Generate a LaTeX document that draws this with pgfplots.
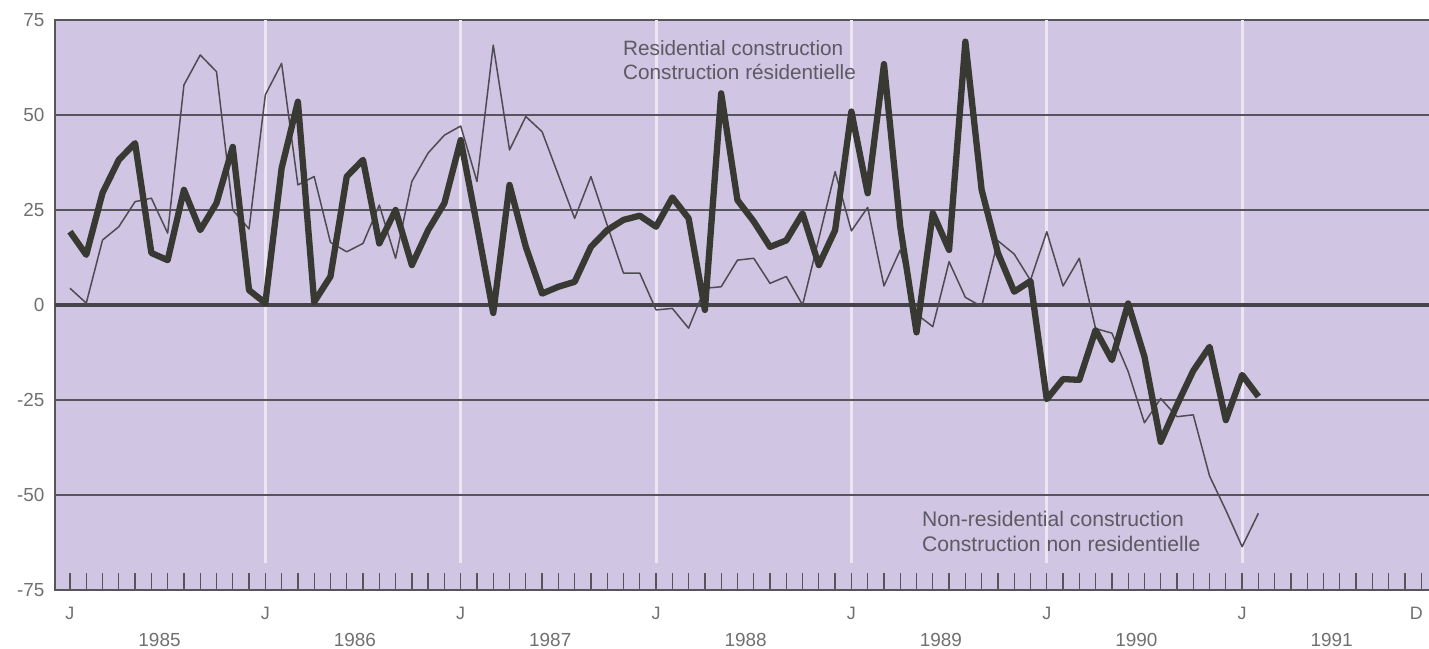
\documentclass[border=0pt]{standalone}
\usepackage{fontspec}
\setmainfont{Liberation Sans}
\usepackage{pgfplots}
\pgfplotsset{compat=1.18}
\definecolor{bg}{RGB}{208,197,226}
\definecolor{vline}{RGB}{236,230,243}
\definecolor{gridc}{RGB}{88,84,92}
\definecolor{thickc}{RGB}{55,57,50}
\definecolor{thinc}{RGB}{78,76,82}
\definecolor{labc}{RGB}{112,112,112}
\definecolor{annc}{RGB}{92,90,98}
\begin{document}
\begin{tikzpicture}
\useasboundingbox (0,0) rectangle (1429bp,649bp);
\begin{axis}[
  at={(55bp,59bp)}, anchor=south west,
  scale only axis, width=1376bp, height=570bp,
  xmin=-0.92, xmax=83.6, ymin=-75, ymax=75,
  axis background/.style={fill=bg},
  axis line style={draw=gridc, line width=1.6bp},
  xtick={0,...,83}, xticklabels={}, xtick pos=left,
  tick align=inside, major tick length=17bp,
  x tick style={draw=gridc, line width=1.3bp},
  ytick={-75,-50,-25,0,25,50,75},
  yticklabels={-75,-50,-25,0,25,50,75},
  ytick pos=left,
  y tick style={draw=none},
  yticklabel style={anchor=east, xshift=-7bp, font=\fontsize{19}{19}\selectfont, text=labc},
  clip=true,
]
% white vertical January lines
\draw[vline, line width=3bp] (axis cs:12,-68) -- (axis cs:12,75);
\draw[vline, line width=3bp] (axis cs:24,-68) -- (axis cs:24,75);
\draw[vline, line width=3bp] (axis cs:36,-68) -- (axis cs:36,75);
\draw[vline, line width=3bp] (axis cs:48,-68) -- (axis cs:48,75);
\draw[vline, line width=3bp] (axis cs:60,-68) -- (axis cs:60,75);
\draw[vline, line width=3bp] (axis cs:72,-68) -- (axis cs:72,75);
% horizontal grid lines
\draw[gridc, line width=1.4bp] (axis cs:-0.92,50) -- (axis cs:83.6,50);
\draw[gridc, line width=1.4bp] (axis cs:-0.92,25) -- (axis cs:83.6,25);
\draw[gridc, line width=1.4bp] (axis cs:-0.92,-25) -- (axis cs:83.6,-25);
\draw[gridc, line width=1.4bp] (axis cs:-0.92,-50) -- (axis cs:83.6,-50);
\draw[gridc!80!black, line width=3.5bp] (axis cs:-0.92,0) -- (axis cs:83.6,0);
% Non-residential construction (thin)
\addplot[thinc, line width=1.5bp, line join=round] coordinates {
(0,4.4) (1,0.5) (2,17.1) (3,20.6) (4,27.2) (5,28.1) (6,18.9) (7,57.9) (8,65.8) (9,61.4)
(10,25) (11,20) (12,55.3) (13,63.6) (14,31.6) (15,33.8) (16,16.5) (17,14) (18,16.2) (19,26.3)
(20,12.3) (21,32.5) (22,40) (23,44.7) (24,47.1) (25,32.5) (26,68.4) (27,40.8) (28,49.6) (29,45.6)
(30,34.2) (31,22.8) (32,33.8) (33,21) (34,8.4) (35,8.4) (36,-1.3) (37,-0.9) (38,-6.1) (39,4.4)
(40,4.8) (41,11.8) (42,12.3) (43,5.7) (44,7.5) (45,0) (46,17.5) (47,35.1) (48,19.5) (49,25.7)
(50,5) (51,14.5) (52,-2.4) (53,-5.7) (54,11.4) (55,2) (56,-0.4) (57,16.9) (58,13.4) (59,6.5)
(60,19.3) (61,5) (62,12.3) (63,-6.2) (64,-7.4) (65,-17.5) (66,-31) (67,-24.6) (68,-29.4) (69,-28.9)
(70,-45) (71,-54) (72,-63.6) (73,-54.8)
};
% Residential construction (thick)
\addplot[thickc, line width=6.3bp, line join=round] coordinates {
(0,19.3) (1,13.2) (2,29.5) (3,38.2) (4,42.6) (5,13.7) (6,11.8) (7,30.3) (8,19.7) (9,26.8)
(10,41.6) (11,3.9) (12,0.5) (13,36) (14,53.5) (15,0.8) (16,7.5) (17,33.8) (18,38.2) (19,16.2)
(20,25) (21,10.5) (22,19.7) (23,26.8) (24,43.4) (25,21) (26,-2.1) (27,31.6) (28,15.3) (29,3)
(30,4.8) (31,6.1) (32,15.3) (33,19.7) (34,22.4) (35,23.5) (36,20.6) (37,28.3) (38,22.8) (39,-1.3)
(40,55.7) (41,27.6) (42,22) (43,15.3) (44,17) (45,24.1) (46,10.5) (47,19.7) (48,50.9) (49,29.4)
(50,63.4) (51,20.6) (52,-7.2) (53,24.2) (54,14.5) (55,69.3) (56,30.3) (57,13.7) (58,3.5) (59,6.3)
(60,-24.8) (61,-19.5) (62,-19.7) (63,-6.6) (64,-14.5) (65,0.4) (66,-13.6) (67,-36) (68,-26.3) (69,-17.3)
(70,-11) (71,-30.3) (72,-18.4) (73,-24.1)
};
% annotations
\node[anchor=west, align=left, inner sep=0pt, text=annc, font=\fontsize{20.8}{24}\selectfont]
  at (axis cs:33.97,64.5) {Residential construction\\Construction résidentielle};
\node[anchor=west, align=left, inner sep=0pt, text=annc, font=\fontsize{21.2}{25}\selectfont]
  at (axis cs:52.33,-59.6) {Non-residential construction\\Construction non residentielle};
\end{axis}
% x labels (outside the clipped axis area)
\begin{axis}[
  at={(55bp,59bp)}, anchor=south west,
  scale only axis, width=1376bp, height=570bp,
  xmin=-0.92, xmax=83.6, ymin=-75, ymax=75,
  hide axis, clip=false,
]
\pgfplotsinvokeforeach{0,12,24,36,48,60,72}{
  \node[text=labc, font=\fontsize{18}{18}\selectfont, inner sep=0pt] at (axis cs:#1,-75) [yshift=-23bp] {J};
}
\node[text=labc, font=\fontsize{18}{18}\selectfont, inner sep=0pt] at (axis cs:82.7,-75) [yshift=-23bp] {D};
\node[text=labc, font=\fontsize{19}{19}\selectfont, inner sep=0pt] at (axis cs:5.5,-75) [yshift=-50bp] {1985};
\node[text=labc, font=\fontsize{19}{19}\selectfont, inner sep=0pt] at (axis cs:17.5,-75) [yshift=-50bp] {1986};
\node[text=labc, font=\fontsize{19}{19}\selectfont, inner sep=0pt] at (axis cs:29.5,-75) [yshift=-50bp] {1987};
\node[text=labc, font=\fontsize{19}{19}\selectfont, inner sep=0pt] at (axis cs:41.5,-75) [yshift=-50bp] {1988};
\node[text=labc, font=\fontsize{19}{19}\selectfont, inner sep=0pt] at (axis cs:53.5,-75) [yshift=-50bp] {1989};
\node[text=labc, font=\fontsize{19}{19}\selectfont, inner sep=0pt] at (axis cs:65.5,-75) [yshift=-50bp] {1990};
\node[text=labc, font=\fontsize{19}{19}\selectfont, inner sep=0pt] at (axis cs:77.5,-75) [yshift=-50bp] {1991};
\end{axis}
\end{tikzpicture}
\end{document}
